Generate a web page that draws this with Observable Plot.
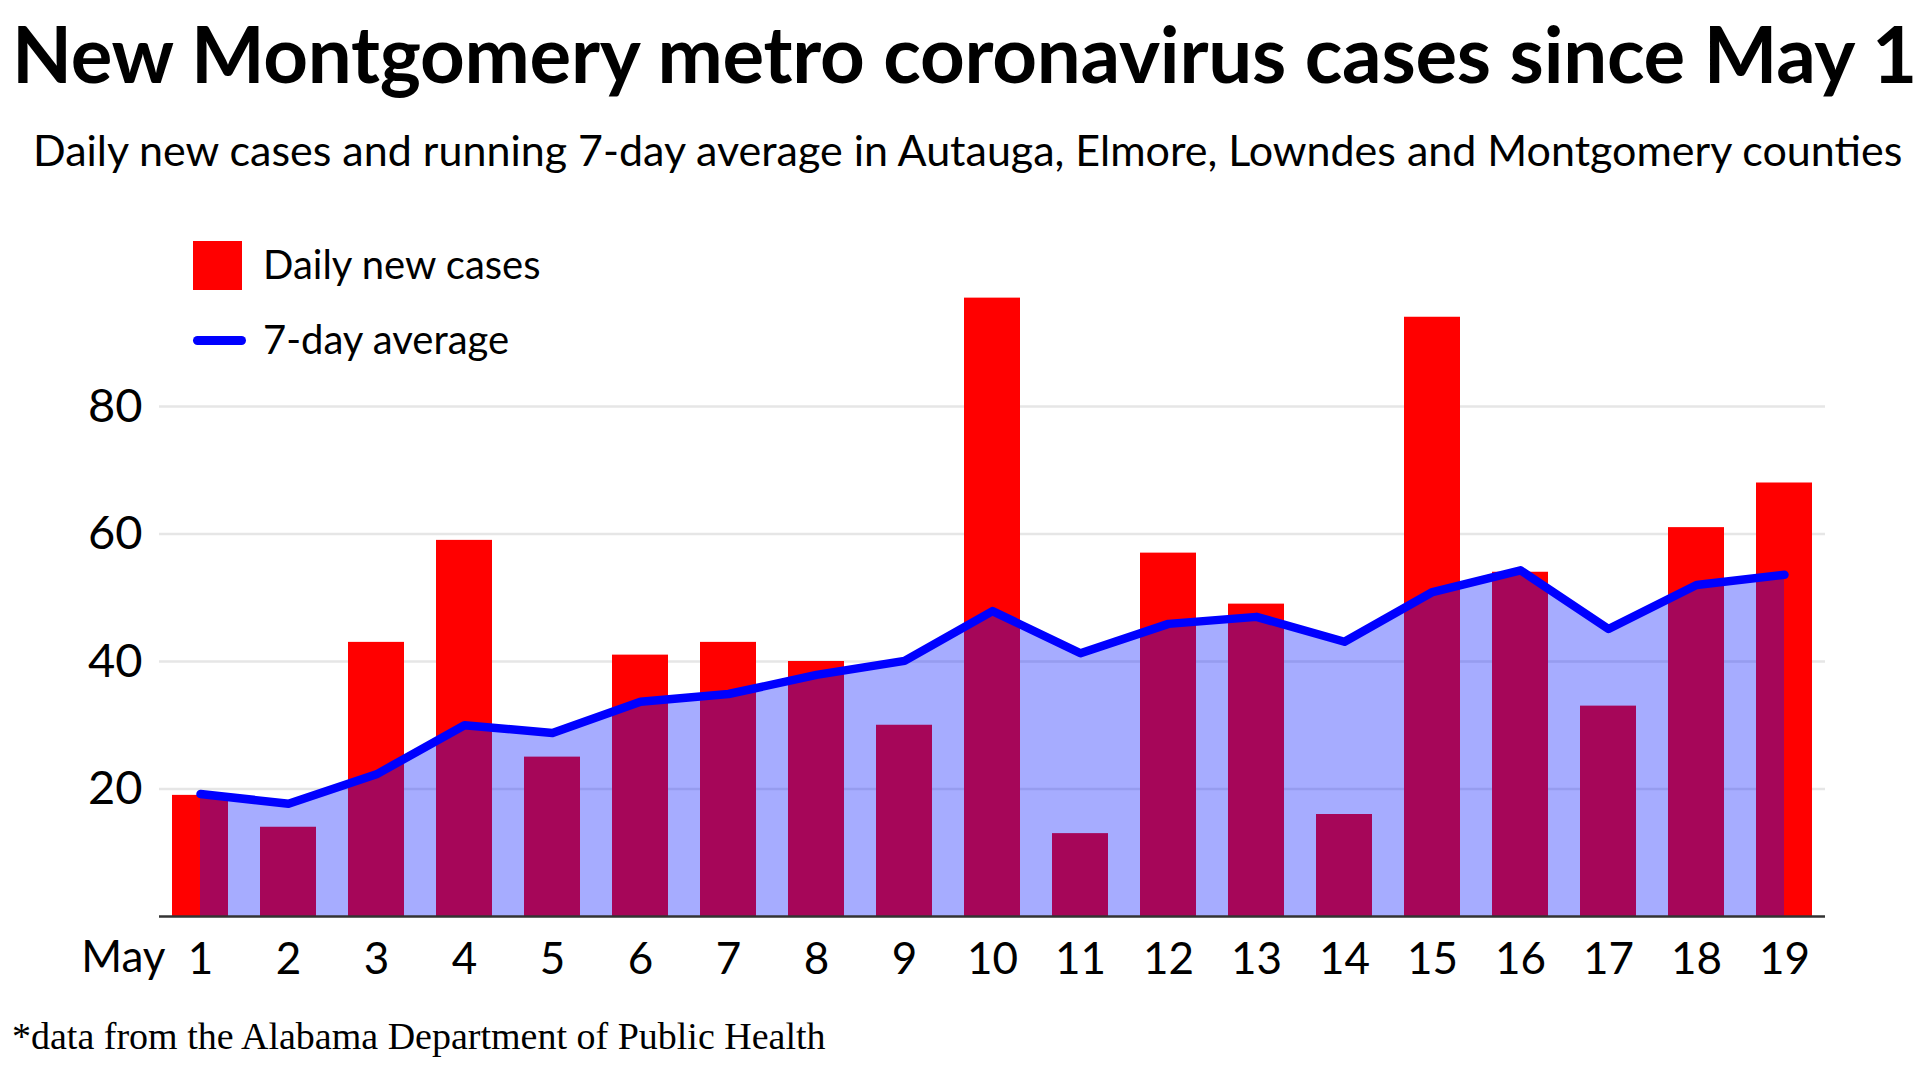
<!DOCTYPE html>
<html>
<head>
<meta charset="utf-8">
<script src="https://cdn.jsdelivr.net/npm/d3@7"></script>
<script src="https://cdn.jsdelivr.net/npm/@observablehq/plot@0.6"></script>
<style>
  html, body { margin: 0; padding: 0; background: #fff; }
  #wrap { position: relative; width: 1920px; height: 1080px; overflow: hidden; }
  .abs { position: absolute; white-space: nowrap; line-height: 1; color: #000; }
  #title { left: 12px; top: 6px; font: 700 78px Lato, sans-serif; letter-spacing: -0.25px; }
  #subtitle { left: 33px; top: 124px; font: 400 43px Lato, sans-serif; }
  .legtext { left: 263px; font: 400 40px Lato, sans-serif; }
  #caption { left: 12px; top: 1014px; font: 400 38px "Liberation Serif", serif; }
  #chart { position: absolute; left: 0; top: 230px; }
</style>
</head>
<body>
<div id="wrap">
  <div id="title" class="abs">New Montgomery metro coronavirus cases since May 1</div>
  <div id="subtitle" class="abs">Daily new cases and running 7-day average in Autauga, Elmore, Lowndes and Montgomery counties</div>
  <div id="chart"></div>
  <div class="abs" style="left:193px;top:241px;width:49px;height:49px;background:#ff0000;"></div>
  <div id="leg1" class="abs legtext" style="top:240px;">Daily new cases</div>
  <div class="abs" style="left:193px;top:335.5px;width:53px;height:9px;border-radius:4.5px;background:#0000ff;"></div>
  <div id="leg2" class="abs legtext" style="top:315px;">7-day average</div>
  <div id="caption" class="abs">*data from the Alabama Department of Public Health</div>
</div>
<script>
const days = [1, 2, 3, 4, 5, 6, 7, 8, 9, 10, 11, 12, 13, 14, 15, 16, 17, 18, 19];
const dailyCases = [19, 14, 43, 59, 25, 41, 43, 40, 30, 97, 13, 57, 49, 16, 94, 54, 33, 61, 68];
const sevenDayAvg = [19.2, 17.7, 22.3, 30.0, 28.8, 33.7, 34.9, 37.9, 40.1, 47.9, 41.3, 45.9, 47.0, 43.1, 50.9, 54.3, 45.1, 52.0, 53.6];
const yTicks = [20, 40, 60, 80];
const xAxisLabel = ["May"];

const rows = days.map((d, i) => ({day: d, cases: dailyCases[i], avg: sevenDayAvg[i]}));

const chart = Plot.plot({
  width: 1920,
  height: 780,
  marginTop: 48.5,
  marginBottom: 94,
  marginLeft: 159,
  marginRight: 95,
  style: {fontFamily: "Lato, sans-serif", fontSize: "44px", color: "#000", background: "transparent", overflow: "visible"},
  x: {type: "band", domain: days, paddingInner: 0.36, paddingOuter: 0.12, tickSize: 0, tickPadding: 26, label: null, tickFormat: d => String(d)},
  y: {domain: [0, 100], ticks: yTicks, tickSize: 0, tickPadding: 17, label: null, tickFormat: d => yTicks.includes(d) ? String(d) : ""},
  marks: [
    Plot.ruleY(yTicks, {stroke: "#e6e6e6", strokeWidth: 2.5}),
    Plot.barY(rows, {x: "day", y: "cases", fill: "#ff0000"}),
    Plot.areaY(rows, {x: "day", y: "avg", fill: "#0010ff", fillOpacity: 0.35}),
    Plot.lineY(rows, {x: "day", y: "avg", stroke: "#0000ff", strokeWidth: 8.5, strokeLinecap: "round", strokeLinejoin: "round"}),
    Plot.ruleY([0], {stroke: "#333", strokeWidth: 2.5}),
    Plot.text(xAxisLabel, {text: d => d, frameAnchor: "bottom-left", textAnchor: "end", lineAnchor: "middle", dx: 6, dy: 41, fontSize: 44, fill: "#000"})
  ]
});
chart.querySelectorAll("g[aria-label='y-axis'] text, g[aria-label='y-axis tick label'] text").forEach(t => t.setAttribute("font-size", "47"));
document.getElementById("chart").appendChild(chart);
</script>
</body>
</html>
